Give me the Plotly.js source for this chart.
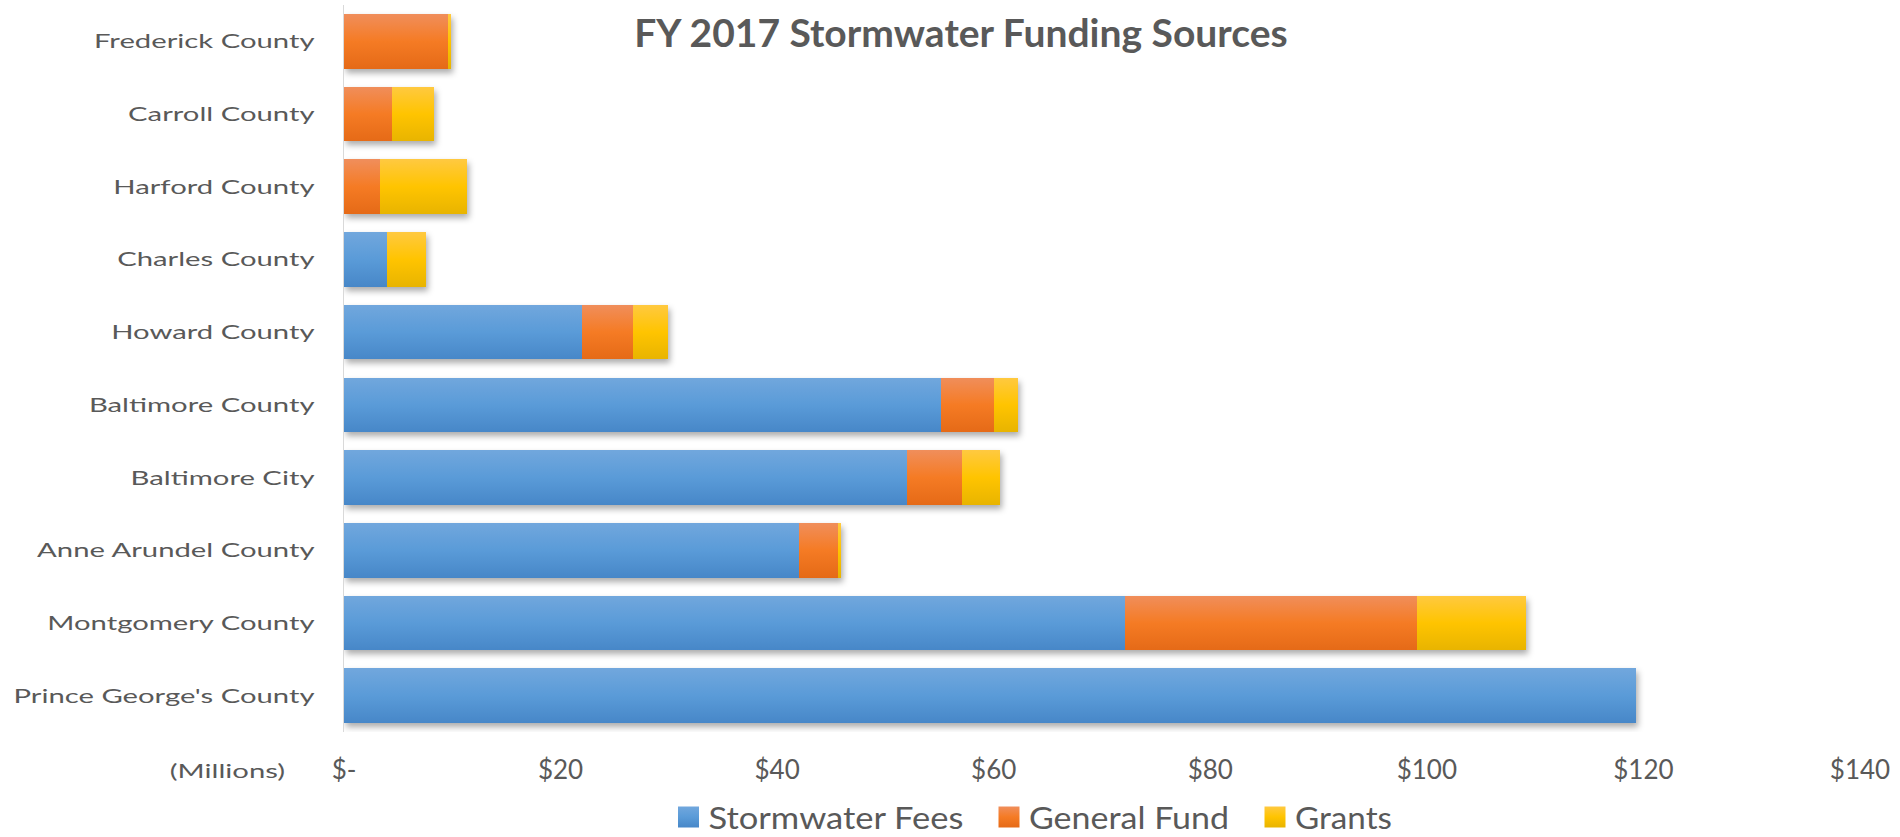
<!DOCTYPE html>
<html>
<head>
<meta charset="utf-8">
<script src="https://cdn.plot.ly/plotly-3.0.1.min.js"></script>
<style>
  html, body { margin: 0; padding: 0; background: #ffffff; }
  #chart { width: 1900px; height: 837px; }
</style>
</head>
<body>
<div id="chart"></div>
<script>
// ---- data (millions of dollars) ----
const categories = ["Frederick County", "Carroll County", "Harford County", "Charles County",
  "Howard County", "Baltimore County", "Baltimore City", "Anne Arundel County",
  "Montgomery County", "Prince George's County"];
const stormwaterFees = [0, 0, 0, 4.0, 22.0, 55.1, 52.0, 42.0, 72.1, 119.3];
const generalFund    = [9.6, 4.4, 3.3, 0, 4.7, 4.9, 5.1, 3.6, 27.0, 0];
const grants         = [0.3, 3.9, 8.1, 3.6, 3.2, 2.2, 3.5, 0.3, 10.1, 0];
const seriesNames = ["Stormwater Fees", "General Fund", "Grants"];
const xTickVals = [0, 20, 40, 60, 80, 100, 120, 140];
const xTickText = ["$-", "$20", "$40", "$60", "$80", "$100", "$120", "$140"];

const colors = ["#5B9BD5", "#F47C26", "#FFC000"];
const gradients = [
  ["#71A7DD", "#5A9BD8", "#4787C8"],
  ["#F08E5B", "#F57B24", "#E56A17"],
  ["#FFC940", "#FFC400", "#E8B400"]
];
const textGray = "#595959";
// legend item placement (page pixels): swatch centres, text widths, vertical centre
const legendSwatchX = [688.5, 1009, 1275];
const legendTextW = [255, 200, 97];
const legendCenterY = 817;

const series = [stormwaterFees, generalFund, grants];
const data = series.map((vals, i) => ({
  type: "bar",
  orientation: "h",
  name: seriesNames[i],
  y: categories,
  x: vals,
  marker: { color: colors[i], line: { width: 0 } },
  hoverinfo: "skip"
}));

const layout = {
  width: 1900,
  height: 837,
  paper_bgcolor: "#ffffff",
  plot_bgcolor: "#ffffff",
  barmode: "stack",
  bargap: 0.25,
  margin: { l: 344, r: 40, t: 5, b: 105, pad: 0, autoexpand: false },
  title: {
    text: "<b>FY 2017 Stormwater Funding Sources</b>",
    font: { family: "Lato, 'Open Sans', sans-serif", size: 39, color: textGray },
    xref: "container", yref: "container",
    x: 0.5058, xanchor: "center",
    y: 0.96, yanchor: "middle"
  },
  xaxis: {
    range: [0, 140],
    tickmode: "array",
    tickvals: xTickVals,
    ticktext: xTickText,
    showgrid: false,
    zeroline: false,
    showline: false,
    ticks: "",
    ticklabelstandoff: 20,
    tickfont: { family: "Lato, 'Open Sans', sans-serif", size: 26, color: textGray },
    fixedrange: true,
    automargin: false
  },
  yaxis: {
    type: "category",
    autorange: "reversed",
    showgrid: false,
    zeroline: false,
    showline: true,
    linecolor: "#D9D9D9",
    linewidth: 1.5,
    ticks: "",
    ticklabelstandoff: 24,
    tickfont: { family: "Lato, 'Open Sans', sans-serif", size: 20, color: textGray },
    fixedrange: true,
    automargin: false
  },
  showlegend: true,
  legend: {
    orientation: "h",
    x: 0.457, xanchor: "center",
    y: -0.12, yanchor: "middle",
    font: { family: "Lato, 'Open Sans', sans-serif", size: 31, color: textGray },
    itemclick: false, itemdoubleclick: false,
    traceorder: "normal"
  },
  annotations: [{
    text: "(Millions)",
    xref: "paper", yref: "paper",
    x: -0.0768, y: -0.052,
    xanchor: "center", yanchor: "middle",
    showarrow: false,
    font: { family: "Lato, 'Open Sans', sans-serif", size: 20, color: textGray }
  }]
};

function shiftTranslate(el, dx, dy) {
  const tr = el.getAttribute("transform") || "";
  const m = tr.match(/translate\(\s*([-\d.e]+)[ ,]+([-\d.e]+)\s*\)/);
  let x = 0, y = 0;
  if (m) { x = parseFloat(m[1]); y = parseFloat(m[2]); }
  el.setAttribute("transform", "translate(" + (x + dx) + "," + (y + dy) + ")");
}

const gd = document.getElementById("chart");
Plotly.newPlot(gd, data, layout, { staticPlot: true, displayModeBar: false }).then(function () {
  const ns = "http://www.w3.org/2000/svg";
  const svg = gd.querySelector("svg.main-svg");
  let defs = svg.querySelector("defs");
  if (!defs) { defs = document.createElementNS(ns, "defs"); svg.insertBefore(defs, svg.firstChild); }
  gradients.forEach(function (g, i) {
    const lg = document.createElementNS(ns, "linearGradient");
    lg.setAttribute("id", "barGrad" + i);
    lg.setAttribute("x1", "0"); lg.setAttribute("y1", "0");
    lg.setAttribute("x2", "0"); lg.setAttribute("y2", "1");
    [0, 0.5, 1].forEach(function (off, k) {
      const st = document.createElementNS(ns, "stop");
      st.setAttribute("offset", off);
      st.setAttribute("stop-color", g[k]);
      lg.appendChild(st);
    });
    defs.appendChild(lg);
  });
  gd.querySelectorAll(".barlayer .trace").forEach(function (t, i) {
    t.querySelectorAll("path").forEach(function (p) { p.style.fill = "url(#barGrad" + i + ")"; });
  });
  const barlayer = gd.querySelector(".barlayer");
  if (barlayer) barlayer.style.filter = "drop-shadow(2px 4px 3px rgba(0,0,0,0.33))";

  // legend: bigger swatches, stretched text, reference spacing
  gd.querySelectorAll(".legend [clip-path]").forEach(function (e) { e.removeAttribute("clip-path"); });
  gd.querySelectorAll(".legend .traces").forEach(function (t, i) {
    t.querySelectorAll(".legendpoints path").forEach(function (p) {
      p.setAttribute("d", "M10.5,10.5H-10.5V-10.5H10.5Z");
      p.style.fill = "url(#barGrad" + i + ")";
      p.style.stroke = "none";
    });
    const txt = t.querySelector("text.legendtext");
    if (txt && legendTextW[i]) {
      txt.setAttribute("textLength", legendTextW[i]);
      txt.setAttribute("lengthAdjust", "spacingAndGlyphs");
    }
    const sw = t.querySelector(".legendpoints path");
    if (sw) {
      const r = sw.getBoundingClientRect();
      const cx = r.left + r.width / 2, cy = r.top + r.height / 2;
      shiftTranslate(t, legendSwatchX[i] - cx, legendCenterY - cy);
    }
  });

  // widen category labels to match the reference's wide lettering
  const ytexts = Array.from(gd.querySelectorAll(".yaxislayer-above .ytick text"));
  let maxW = 0;
  ytexts.forEach(function (t) { maxW = Math.max(maxW, t.getComputedTextLength()); });
  const scale = maxW > 0 ? 301 / maxW : 1;
  ytexts.forEach(function (t) {
    t.setAttribute("textLength", (t.getComputedTextLength() * scale).toFixed(1));
    t.setAttribute("lengthAdjust", "spacingAndGlyphs");
  });
  gd.querySelectorAll(".annotation-text").forEach(function (t) {
    t.setAttribute("textLength", (t.getComputedTextLength() * scale).toFixed(1));
    t.setAttribute("lengthAdjust", "spacingAndGlyphs");
  });
});
</script>
</body>
</html>
